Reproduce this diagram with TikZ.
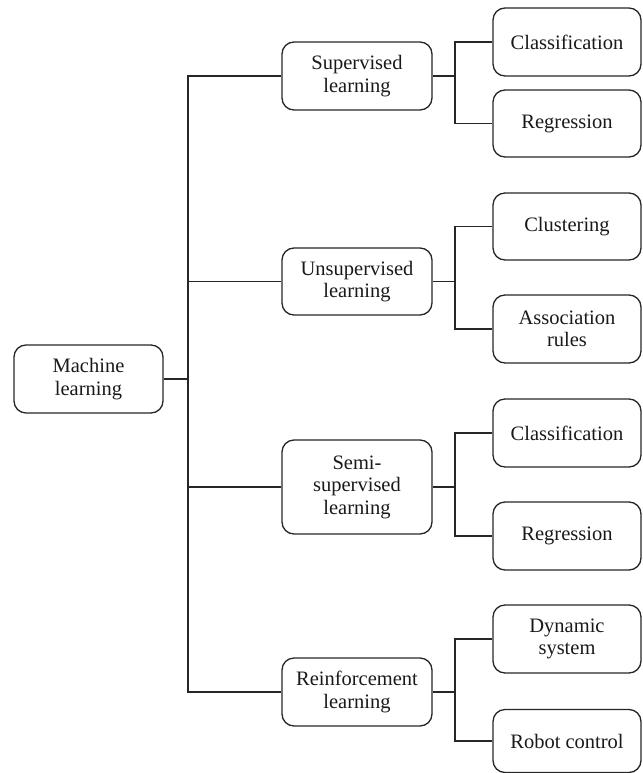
\documentclass[tikz,border=0pt]{standalone}
\usepackage{fontspec}
\setmainfont{Liberation Serif}
\begin{document}
\begin{tikzpicture}[x=1pt,y=-1pt,
  box/.style={draw=black!85,line width=1.3pt,rounded corners=12pt,align=center,
    inner sep=0pt,font=\fontsize{20.5}{22.5}\selectfont,text=black!90},
  rootbox/.style={box,minimum width=149pt,minimum height=68pt},
  midbox/.style={box,minimum width=150pt},
  leafbox/.style={box,minimum width=148pt},
  conn/.style={draw=black!85,line width=1.2pt}]
\useasboundingbox (0,0) rectangle (642,773);
\node[rootbox] (root) at (88.5,379) {Machine\\learning};
\node[midbox,minimum height=68pt] (sup) at (357,76) {Supervised\\learning};
\node[midbox,minimum height=67pt] (unsup) at (357,281.5) {Unsupervised\\learning};
\node[midbox,minimum height=94pt] (semi) at (357,487) {Semi-\\supervised\\learning};
\node[midbox,minimum height=68pt] (reinf) at (357,692) {Reinforcement\\learning};
\node[leafbox,minimum height=68pt] (cls1) at (567,42) {Classification};
\node[leafbox,minimum height=67pt] (reg1) at (567,123.5) {Regression};
\node[leafbox,minimum height=67pt] (clu) at (567,226.5) {Clustering};
\node[leafbox,minimum height=68pt] (assoc) at (567,329) {Association\\rules};
\node[leafbox,minimum height=68pt] (cls2) at (567,433) {Classification};
\node[leafbox,minimum height=68pt] (reg2) at (567,536) {Regression};
\node[leafbox,minimum height=68pt] (dyn) at (567,639) {Dynamic\\system};
\node[leafbox,minimum height=63pt] (robot) at (567,741) {Robot control};
\coordinate (tx) at (188,0);
\coordinate (bx) at (455,0);
\draw[conn] (root.east) -- (root.east -| tx);
\draw[conn] (sup.west) -- (sup.west -| tx) -- (reinf.west -| tx) -- (reinf.west);
\draw[conn] (unsup.west) -- (unsup.west -| tx);
\draw[conn] (semi.west) -- (semi.west -| tx);
\foreach \p/\a/\b in {sup/cls1/reg1,unsup/clu/assoc,semi/cls2/reg2,reinf/dyn/robot}{
  \draw[conn] (\p.east) -- (\p.east -| bx);
  \draw[conn] (\a.west) -- (\a.west -| bx) -- (\b.west -| bx) -- (\b.west);
}
\end{tikzpicture}
\end{document}
